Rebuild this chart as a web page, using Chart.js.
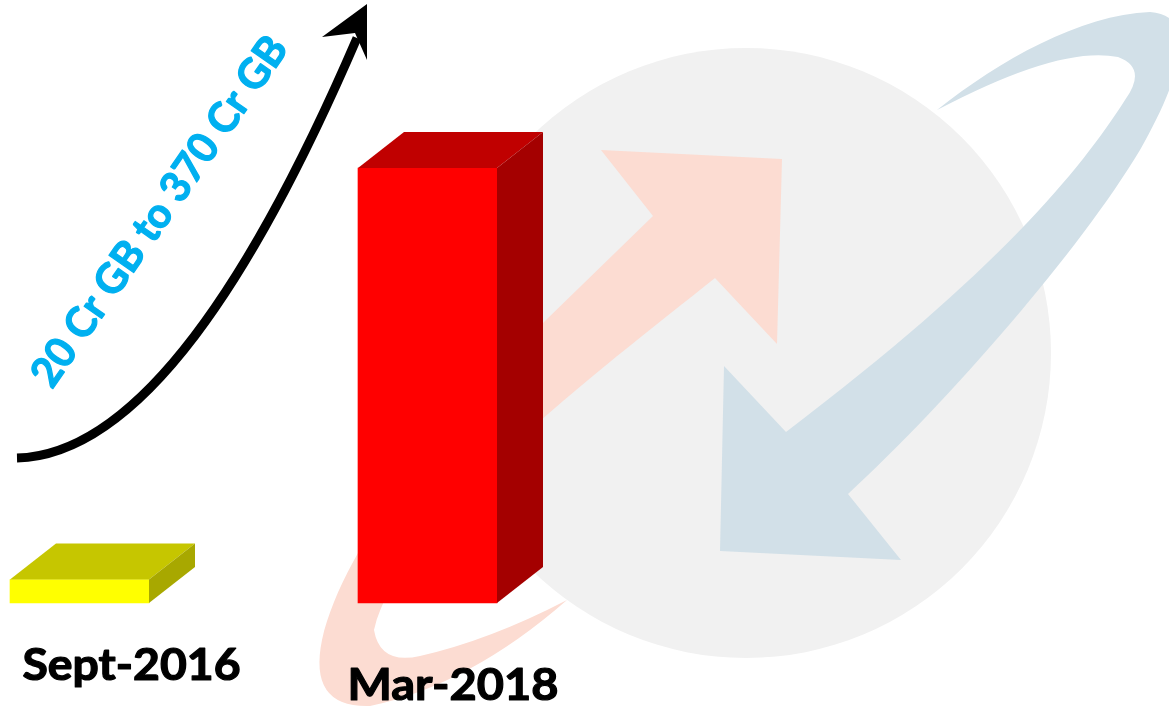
<!DOCTYPE html>
<html>
<head>
<meta charset="utf-8">
<script src="https://cdn.jsdelivr.net/npm/chart.js@4.4.1/dist/chart.umd.min.js"></script>
<style>
  html, body { margin: 0; padding: 0; background: #ffffff; }
  #wrap { width: 1169px; height: 710px; position: relative; }
</style>
</head>
<body>
<div id="wrap"><canvas id="usage_chart"></canvas></div>
<script>
// data usage (crore GB)
const categories = ['Sept-2016', 'Mar-2018'];
const dataUsage = [20, 370];
const growthText = '20 Cr GB to 370 Cr GB';

const frontColors = ['#FFFF00', '#FF0000'];
const topColors = ['#C6C600', '#C00000'];
const sideColors = ['#A8A800', '#A40000'];

// 3d depth of the boxes
const DEPTH_X = 46;
const DEPTH_Y = 36;

// faded logo behind the bars
const logoPlugin = {
    id: 'logo',
    beforeDatasetsDraw(chart) {
        const ctx = chart.ctx;
        ctx.save();
        // grey globe
        ctx.fillStyle = '#F1F1F1';
        ctx.beginPath();
        ctx.arc(746, 353, 305, 0, Math.PI * 2);
        ctx.fill();

        // salmon arrow going up
        ctx.fillStyle = '#FCDCD2';
        ctx.beginPath();
        ctx.moveTo(653, 216);
        ctx.lineTo(601, 150);
        ctx.lineTo(782, 159);
        ctx.lineTo(777, 344);
        ctx.lineTo(715, 278);
        ctx.bezierCurveTo(600, 370, 400, 520, 374, 630);
        ctx.quadraticCurveTo(380, 665, 420, 656);
        ctx.quadraticCurveTo(490, 640, 567, 600);
        ctx.quadraticCurveTo(470, 685, 370, 706);
        ctx.quadraticCurveTo(308, 708, 322, 640);
        ctx.bezierCurveTo(345, 540, 450, 420, 545, 321);
        ctx.closePath();
        ctx.fill();

        // blue arrow coming down
        ctx.fillStyle = '#D2E0E8';
        ctx.beginPath();
        ctx.moveTo(786, 432);
        ctx.lineTo(724, 366);
        ctx.lineTo(720, 551);
        ctx.lineTo(901, 560);
        ctx.lineTo(848, 494);
        ctx.bezierCurveTo(950, 400, 1080, 250, 1140, 150);
        ctx.bezierCurveTo(1180, 80, 1200, 15, 1150, 12);
        ctx.bezierCurveTo(1080, 15, 1000, 60, 937, 110);
        ctx.quadraticCurveTo(1060, 45, 1118, 57);
        ctx.quadraticCurveTo(1148, 68, 1125, 100);
        ctx.bezierCurveTo(1080, 170, 1000, 270, 786, 432);
        ctx.closePath();
        ctx.fill();
        ctx.restore();
    }
};

// top and side faces of the boxes
const boxPlugin = {
    id: 'box3d',
    afterDatasetsDraw(chart) {
        const ctx = chart.ctx;
        const meta = chart.getDatasetMeta(0);
        ctx.save();
        meta.data.forEach((bar, i) => {
            const p = bar.getProps(['x', 'y', 'base', 'width'], true);
            const l = p.x - p.width / 2;
            const r = p.x + p.width / 2;
            ctx.fillStyle = topColors[i];
            ctx.beginPath();
            ctx.moveTo(l, p.y);
            ctx.lineTo(l + DEPTH_X, p.y - DEPTH_Y);
            ctx.lineTo(r + DEPTH_X, p.y - DEPTH_Y);
            ctx.lineTo(r, p.y);
            ctx.closePath();
            ctx.fill();
            ctx.fillStyle = sideColors[i];
            ctx.beginPath();
            ctx.moveTo(r, p.y);
            ctx.lineTo(r + DEPTH_X, p.y - DEPTH_Y);
            ctx.lineTo(r + DEPTH_X, p.base - DEPTH_Y);
            ctx.lineTo(r, p.base);
            ctx.closePath();
            ctx.fill();
        });
        ctx.restore();
    }
};

// draws bold text with a given cap height, squeezed to a given width
function boxText(ctx, text, x, y, capH, width) {
    const size = capH / 0.72;
    ctx.font = 'bold ' + size + 'px Lato';
    const w = ctx.measureText(text).width;
    ctx.save();
    ctx.translate(x, y);
    ctx.scale(width / w, 1);
    ctx.textAlign = 'left';
    ctx.textBaseline = 'alphabetic';
    ctx.strokeStyle = ctx.fillStyle;
    ctx.lineWidth = 1.2;
    ctx.lineJoin = 'round';
    ctx.fillText(text, 0, 0);
    ctx.strokeText(text, 0, 0);
    ctx.restore();
}

// labels, growth arrow and its caption
const textPlugin = {
    id: 'texts',
    afterDraw(chart) {
        const ctx = chart.ctx;
        const meta = chart.getDatasetMeta(0);
        const shift = [-57, -80];
        const baseY = [680, 700];
        const capH = [31, 32];
        const widths = [218, 211];
        ctx.save();
        ctx.fillStyle = '#000000';
        meta.data.forEach((bar, i) => {
            boxText(ctx, categories[i], bar.x + shift[i], baseY[i], capH[i], widths[i]);
        });

        // black growth arrow
        ctx.strokeStyle = '#000000';
        ctx.lineWidth = 9;
        ctx.beginPath();
        ctx.moveTo(17, 458);
        ctx.bezierCurveTo(140, 455, 255, 275, 357, 38);
        ctx.stroke();
        ctx.beginPath();
        ctx.moveTo(367, 4);
        ctx.lineTo(322, 37);
        ctx.lineTo(355, 33);
        ctx.lineTo(367, 60);
        ctx.closePath();
        ctx.fill();

        // rotated caption
        ctx.fillStyle = '#00B0F0';
        ctx.translate(52, 390);
        ctx.rotate(Math.atan2(-338, 235));
        boxText(ctx, growthText, 0, 0, 30, 416);
        ctx.restore();
    }
};

const chartEl = document.getElementById('usage_chart');

new Chart(chartEl, {
    type: 'bar',
    data: {
        labels: categories,
        datasets: [{
            label: 'Data usage (Cr GB)',
            data: dataUsage,
            backgroundColor: frontColors,
            borderWidth: 0,
            barThickness: 139,
            clip: false
        }]
    },
    options: {
        responsive: true,
        maintainAspectRatio: false,
        animation: false,
        layout: {
            padding: { left: 79.5, right: 741.5, top: 0, bottom: 107 }
        },
        plugins: {
            legend: { display: false },
            tooltip: { enabled: false }
        },
        scales: {
            x: { display: false, offset: false },
            y: { display: false, min: 0, max: 513 }
        }
    },
    plugins: [logoPlugin, boxPlugin, textPlugin]
});
</script>
</body>
</html>
